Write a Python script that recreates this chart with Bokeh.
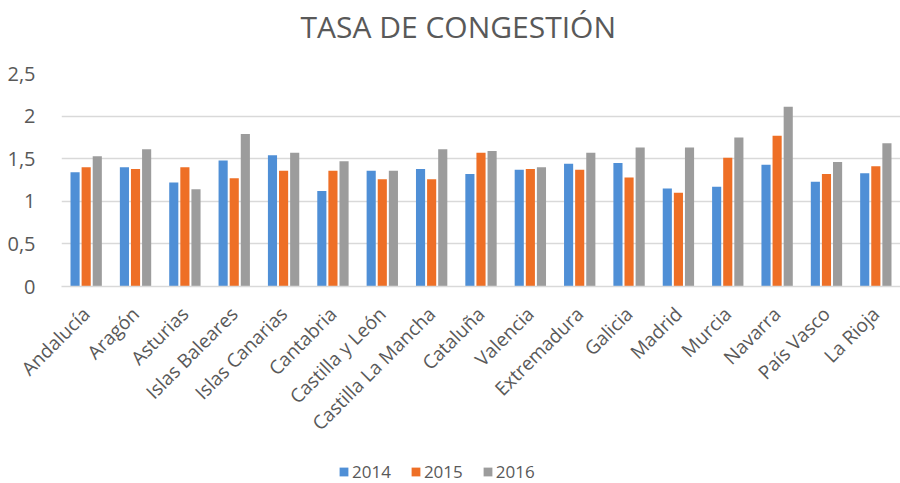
import math
from bokeh.plotting import figure
from bokeh.layouts import column
from bokeh.models import (FactorRange, Range1d, FixedTicker, Legend, LegendItem,
                          ColumnDataSource, Label)
from bokeh.transform import dodge
from bokeh.embed import file_html
from bokeh.resources import INLINE

regions = ["Andalucía", "Aragón", "Asturias", "Islas Baleares", "Islas Canarias",
           "Cantabria", "Castilla y León", "Castilla La Mancha", "Cataluña",
           "Valencia", "Extremadura", "Galicia", "Madrid", "Murcia", "Navarra",
           "País Vasco", "La Rioja"]
years = ["2014", "2015", "2016"]
v2014 = [1.34, 1.40, 1.22, 1.48, 1.54, 1.12, 1.36, 1.38, 1.32, 1.37, 1.44,
         1.45, 1.15, 1.17, 1.43, 1.23, 1.33]
v2015 = [1.40, 1.38, 1.40, 1.27, 1.36, 1.36, 1.26, 1.26, 1.57, 1.38, 1.37,
         1.28, 1.10, 1.51, 1.77, 1.32, 1.41]
v2016 = [1.53, 1.61, 1.14, 1.79, 1.57, 1.47, 1.36, 1.61, 1.59, 1.40, 1.57,
         1.63, 1.63, 1.75, 2.11, 1.46, 1.68]
y_ticks = [0, 0.5, 1, 1.5, 2, 2.5]
y_tick_labels = ["0", "0,5", "1", "1,5", "2", "2,5"]
colors = ["#4F8FD6", "#EE6F26", "#9C9C9C"]
title_text = "TASA DE CONGESTIÓN"

src = ColumnDataSource(dict(region=regions, y2014=v2014, y2015=v2015, y2016=v2016))
cols = ["y2014", "y2015", "y2016"]
offsets = [-0.225, 0.0, 0.225]

FONT = "Open Sans"
TXT = "#595959"

# title strip
p0 = figure(width=900, height=61, output_backend="svg", toolbar_location=None,
            x_range=Range1d(0, 1), y_range=Range1d(0, 1), min_border=0,
            x_axis_location=None, y_axis_location=None, outline_line_color=None)
p0.grid.visible = False
p0.add_layout(Label(x=239, y=35, x_units="screen", y_units="screen", text=title_text,
                    text_font=FONT, text_font_size="30px", text_color=TXT,
                    text_align="left", text_baseline="alphabetic"))

# main chart
p = figure(width=900, height=389, output_backend="svg", toolbar_location=None,
           x_range=FactorRange(*regions, range_padding=0), y_range=Range1d(0, 2.5),
           min_border_left=61, min_border_right=0, min_border_top=12,
           min_border_bottom=164, outline_line_color=None)

for col, off, c in zip(cols, offsets, colors):
    p.vbar(x=dodge("region", off, range=p.x_range), top=col, width=0.185,
           source=src, color=c, line_color=None)

p.xgrid.grid_line_color = None
p.ygrid.grid_line_color = "#D9D9D9"
p.ygrid.grid_line_width = 1.5
p.yaxis.ticker = FixedTicker(ticks=y_ticks)
p.yaxis.major_label_overrides = {float(t): l for t, l in zip(y_ticks, y_tick_labels)}
p.yaxis.axis_line_color = None
p.yaxis.major_tick_line_color = None
p.yaxis.minor_tick_line_color = None
p.yaxis.major_label_text_font = FONT
p.yaxis.major_label_text_font_size = "20px"
p.yaxis.major_label_text_color = TXT
p.yaxis.major_label_standoff = 20

p.xaxis.axis_line_color = "#D9D9D9"
p.xaxis.axis_line_width = 1.5
p.xaxis.major_tick_line_color = None
p.xaxis.minor_tick_line_color = None
p.xaxis.major_label_orientation = math.pi / 4
p.xaxis.major_label_text_font = FONT
p.xaxis.major_label_text_font_size = "19px"
p.xaxis.major_label_text_color = TXT
p.xaxis.major_label_standoff = 18

# legend strip underneath the chart (same series, renderers hidden)
p2 = figure(width=900, height=33, output_backend="svg", toolbar_location=None,
            x_range=p.x_range, y_range=Range1d(0, 2.5), min_border=0,
            x_axis_location=None, y_axis_location=None, outline_line_color=None)
p2.grid.visible = False
lr = [p2.vbar(x=dodge("region", off, range=p2.x_range), top=col, width=0.185,
              source=src, color=c, line_color=None, visible=False)
      for col, off, c in zip(cols, offsets, colors)]
legend = Legend(items=[LegendItem(label=y, renderers=[r]) for y, r in zip(years, lr)],
                orientation="horizontal", location=(277, 0),
                glyph_width=11, glyph_height=11, label_standoff=3, spacing=19,
                padding=0, margin=0, border_line_color=None,
                background_fill_alpha=0, inactive_fill_alpha=0,
                label_text_font=FONT, label_text_font_size="17px",
                label_text_color=TXT)
p2.add_layout(legend, "center")

layout = column(p0, p, p2, spacing=0)
open("out.html", "w").write(file_html(layout, INLINE))
